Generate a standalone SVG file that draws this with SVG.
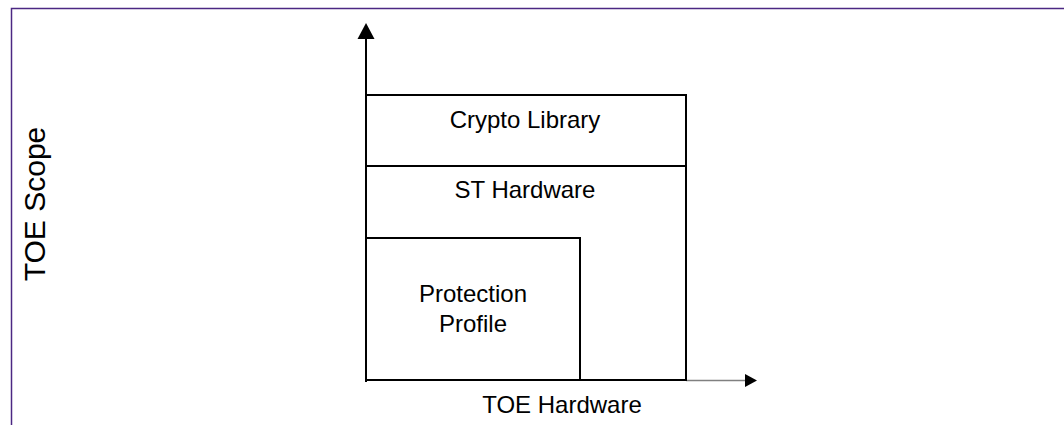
<svg xmlns="http://www.w3.org/2000/svg" width="1064" height="425" viewBox="0 0 1064 425">
<style>
.t{font-family:"Liberation Sans",Arial,sans-serif;font-size:24px;fill:#000;text-anchor:middle}
.box{fill:none;stroke:#000;stroke-width:2}
</style>
<rect width="1064" height="425" fill="#fff"/>
<path d="M11.5,425 V8.5 H1064" fill="none" stroke="#4b2883" stroke-width="1.5"/>
<g id="connectors">
<line x1="366" y1="382" x2="366" y2="37" stroke="#000" stroke-width="2"/>
<polygon points="366,23 357.5,39 374.5,39" fill="#000"/>
<line x1="686" y1="380.5" x2="747" y2="380.5" stroke="#808080" stroke-width="1.5"/>
<polygon points="757,380.5 745,374 745,387" fill="#000"/>
</g>
<g id="crypto-library">
<rect class="box" x="366" y="95" width="320" height="71"/>
<text class="t" x="525" y="128">Crypto Library</text>
</g>
<g id="st-hardware">
<rect class="box" x="366" y="166" width="320" height="214"/>
<text class="t" x="525" y="198">ST Hardware</text>
</g>
<g id="protection-profile">
<rect class="box" x="366" y="238" width="214" height="142"/>
<text class="t" x="473" y="302">Protection</text>
<text class="t" x="473" y="332">Profile</text>
</g>
<g id="toe-hardware">
<text class="t" x="562" y="413">TOE Hardware</text>
</g>
<g id="toe-scope">
<text class="t" style="font-size:30px" transform="translate(45,204) rotate(-90)">TOE Scope</text>
</g>
</svg>
